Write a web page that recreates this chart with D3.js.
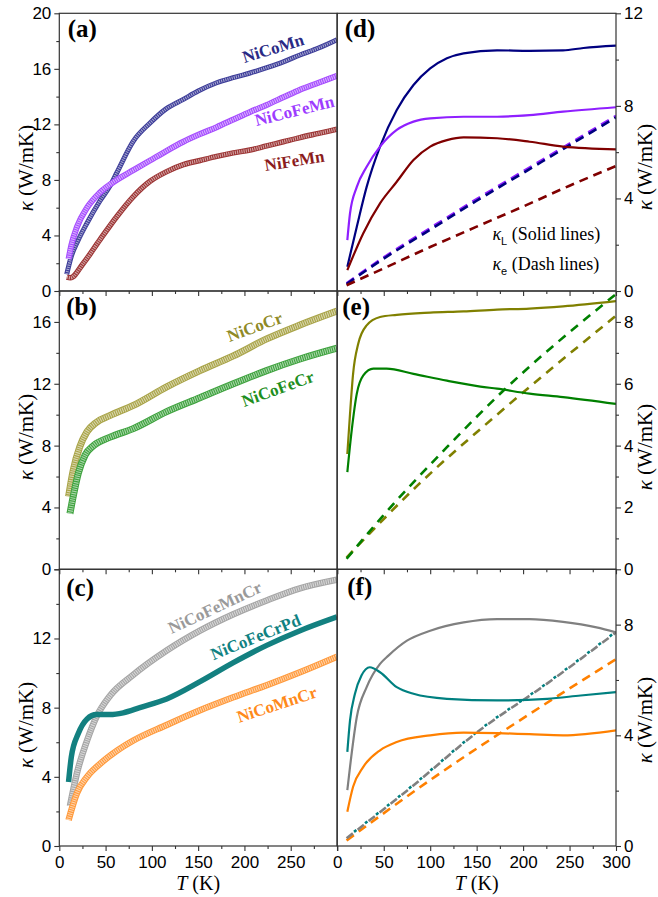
<!DOCTYPE html>
<html>
<head>
<meta charset="utf-8">
<script src="https://cdn.jsdelivr.net/npm/d3@7"></script>
<style>
  body { margin: 0; background: #fff; }
  svg { display: block; }
  .tick text { font-family: "Liberation Sans", Arial, sans-serif; font-size: 17px; fill: #000; }
  .domain { display: none; }
  .tick line { stroke: #333; stroke-width: 1.1; }
  .serif { font-family: "Liberation Serif", "Times New Roman", serif; }
</style>
</head>
<body>
<svg id="chart" width="658" height="897"></svg>
<script>
// ---- (a) total kappa, Mn alloys ----
const aNiCoMnT = [8, 13, 20, 30, 44, 55, 62, 80, 98, 115, 134, 150, 170, 190, 206, 225, 242, 260, 280, 300];
const aNiCoMnK = [1.2, 2.5, 3.6, 4.9, 6.5, 7.6, 8.5, 10.8, 12.1, 13.1, 13.8, 14.4, 15.0, 15.4, 15.7, 16.1, 16.5, 17.0, 17.5, 18.1];
const aNiCoFeMnT = [10, 13, 19, 30, 44, 62, 80, 98, 116, 134, 152, 170, 188, 206, 224, 242, 260, 280, 300];
const aNiCoFeMnK = [2.3, 3.3, 4.6, 6.0, 7.1, 8.0, 8.7, 9.4, 10.1, 10.75, 11.3, 11.8, 12.35, 12.9, 13.4, 13.95, 14.5, 15.0, 15.5];
const aNiFeMnT = [8, 12, 26, 44, 62, 80, 98, 116, 134, 152, 170, 188, 206, 224, 242, 260, 280, 300];
const aNiFeMnK = [1.0, 0.95, 2.0, 3.7, 5.35, 6.8, 7.9, 8.6, 9.1, 9.4, 9.7, 9.95, 10.15, 10.45, 10.75, 11.05, 11.35, 11.65];

// ---- (b) total kappa, Cr alloys ----
const bNiCoCrT = [10, 15, 22, 30, 40, 55, 80, 116, 152, 188, 224, 260, 300];
const bNiCoCrK = [4.7, 6.4, 7.9, 8.9, 9.5, 9.95, 10.6, 11.8, 12.85, 13.8, 14.9, 15.8, 16.7];
const bNiCoFeCrT = [11.5, 15, 20.5, 28, 37, 55, 80, 116, 152, 188, 224, 260, 300];
const bNiCoFeCrK = [3.6, 4.7, 6.2, 7.4, 8.0, 8.55, 9.1, 10.2, 11.1, 12.0, 12.85, 13.6, 14.3];

// ---- (c) total kappa, 4-5 component ----
const cNiCoFeMnCrT = [11.5, 19, 30, 40, 55, 80, 116, 152, 188, 224, 260, 300];
const cNiCoFeMnCrK = [2.3, 4.2, 6.1, 7.45, 8.7, 9.9, 11.3, 12.45, 13.4, 14.2, 14.9, 15.4];
const cNiCoFeCrPdT = [10, 13, 20.5, 30, 40, 55, 69, 87, 116, 152, 188, 224, 260, 300];
const cNiCoFeCrPdK = [3.7, 5.15, 6.5, 7.35, 7.6, 7.6, 7.7, 8.0, 8.5, 9.5, 10.6, 11.6, 12.45, 13.25];
const cNiCoMnCrT = [10, 19, 30, 44, 62, 80, 116, 152, 188, 224, 260, 300];
const cNiCoMnCrK = [1.5, 3.05, 4.0, 4.75, 5.5, 6.1, 7.0, 7.85, 8.6, 9.3, 10.05, 10.95];

// ---- (d) lattice (solid) and electronic (dash) ----
const dNiCoMnT = [10.8, 21, 31.6, 46, 64, 82, 100, 118, 136, 172, 207, 243, 265, 300];
const dNiCoMnL = [1.05, 2.78, 4.5, 6.24, 7.82, 8.9, 9.62, 10.06, 10.27, 10.4, 10.38, 10.4, 10.5, 10.6];
const dNiCoFeMnT = [10.8, 13.7, 21, 31.6, 46, 64, 82, 100, 136, 172, 207, 243, 300];
const dNiCoFeMnL = [2.2, 3.36, 4.5, 5.37, 6.24, 6.96, 7.32, 7.46, 7.53, 7.53, 7.6, 7.75, 7.94];
const dNiFeMnT = [10.8, 28, 46, 64, 82, 100, 118, 136, 172, 207, 243, 300];
const dNiFeMnL = [0.9, 2.5, 3.79, 4.72, 5.66, 6.24, 6.52, 6.64, 6.6, 6.45, 6.24, 6.12];
const dElecT = [10, 50, 100, 150, 200, 250, 300];
const dNiCoMnE = [0.3, 1.4, 2.65, 3.9, 5.1, 6.3, 7.5];
const dNiCoFeMnE = [0.33, 1.45, 2.72, 3.97, 5.17, 6.37, 7.57];
const dNiFeMnE = [0.25, 0.98, 1.9, 2.78, 3.65, 4.55, 5.4];

// ---- (e) ----
const eNiCoCrT = [10.8, 13.7, 17, 22.6, 31.6, 46, 64, 100, 136, 172, 207, 243, 300];
const eNiCoCrL = [3.73, 5.03, 6.32, 7.3, 7.89, 8.16, 8.23, 8.3, 8.34, 8.4, 8.43, 8.5, 8.67];
const eNiCoFeCrT = [10.8, 15.5, 21, 28, 38.8, 53, 82, 118, 154, 172, 207, 243, 300];
const eNiCoFeCrL = [3.14, 4.49, 5.68, 6.27, 6.49, 6.49, 6.32, 6.1, 5.91, 5.84, 5.68, 5.57, 5.35];
const eNiCoCrET = [10, 87, 170, 300];
const eNiCoCrE = [0.38, 2.73, 4.95, 8.2];
const eNiCoFeCrET = [10, 48, 118, 174, 300];
const eNiCoFeCrE = [0.34, 1.69, 3.95, 5.64, 8.9];

// ---- (f) ----
const fNiCoFeMnCrT = [10.8, 13.7, 21, 31.6, 46, 55, 75, 100, 136, 172, 207, 243, 279, 300];
const fNiCoFeMnCrL = [2.02, 2.86, 4.66, 5.74, 6.58, 6.88, 7.42, 7.78, 8.08, 8.2, 8.2, 8.1, 7.9, 7.72];
const fNiCoFeCrPdT = [10.8, 13.7, 19, 26, 35, 46, 64, 82, 118, 172, 226, 262, 300];
const fNiCoFeCrPdL = [3.4, 4.54, 5.5, 6.16, 6.46, 6.28, 5.74, 5.5, 5.32, 5.26, 5.32, 5.44, 5.56];
const fNiCoMnCrT = [10.8, 17, 28, 46, 64, 100, 136, 172, 207, 243, 300];
const fNiCoMnCrL = [1.24, 2.14, 2.86, 3.46, 3.76, 4.0, 4.1, 4.08, 4.04, 4.0, 4.18];
const fElecT = [10, 75, 154, 225, 300];
const fNiCoFeMnCrE = [0.28, 2.0, 4.2, 5.85, 7.72];
const fNiCoFeCrPdE = [0.3, 2.02, 4.22, 5.87, 7.75];
const fNiCoMnCrET = [10, 105, 190, 300];
const fNiCoMnCrE = [0.2, 2.5, 4.4, 6.75];

// tick values
const xMajor = [0, 50, 100, 150, 200, 250, 300];
const xMinor = [25, 75, 125, 175, 225, 275];
const xLabelsLeft = ["0", "50", "100", "150", "200", "250", ""];
const xLabelsRight = ["0", "50", "100", "150", "200", "250", "300"];

const svg = d3.select("#chart");

const LEFT = [59.3, 337], RIGHT = [337.3, 616];
const ROWS = [[13.3, 291], [291, 569.3], [569.3, 846]];

const panels = {
  a: { xr: LEFT,  row: ROWS[0], ymax: 20, major: [0, 4, 8, 12, 16, 20], minor: [2, 6, 10, 14, 18], shown: [0, 4, 8, 12, 16, 20], side: "left",  tag: "(a)", tagAt: [8.5, 24], xLabels: false, yTitleY: 168 },
  b: { xr: LEFT,  row: ROWS[1], ymax: 18, major: [0, 4, 8, 12, 16], minor: [2, 6, 10, 14], shown: [0, 4, 8, 12, 16], side: "left", tag: "(b)", tagAt: [7, 24], xLabels: false, yTitleY: 437 },
  c: { xr: LEFT,  row: ROWS[2], ymax: 16, major: [0, 4, 8, 12, 16], minor: [2, 6, 10, 14], shown: [0, 4, 8, 12], side: "left", tag: "(c)", tagAt: [7, 27], xLabels: xLabelsLeft, yTitleY: 725 },
  d: { xr: RIGHT, row: ROWS[0], ymax: 12, major: [0, 4, 8, 12], minor: [2, 6, 10], shown: [0, 4, 8, 12], side: "right", tag: "(d)", tagAt: [7.5, 24], xLabels: false, yTitleY: 167 },
  e: { xr: RIGHT, row: ROWS[1], ymax: 9, major: [0, 2, 4, 6, 8], minor: [1, 3, 5, 7], shown: [0, 2, 4, 6, 8], side: "right", tag: "(e)", tagAt: [5, 24], xLabels: false, yTitleY: 447 },
  f: { xr: RIGHT, row: ROWS[2], ymax: 10, major: [0, 4, 8], minor: [2, 6], shown: [0, 4, 8], side: "right", tag: "(f)", tagAt: [10, 26], xLabels: xLabelsRight, yTitleY: 720 }
};

// build scales for every panel
Object.entries(panels).forEach(([id, p]) => {
  p.x = d3.scaleLinear().domain([0, 300]).range(p.xr);
  p.y = d3.scaleLinear().domain([0, p.ymax]).range([p.row[1], p.row[0]]);
  svg.append("clipPath").attr("id", "clip-" + id)
    .append("rect")
    .attr("x", p.xr[0]).attr("y", p.row[0])
    .attr("width", p.xr[1] - p.xr[0]).attr("height", p.row[1] - p.row[0]);
  p.g = svg.append("g").attr("clip-path", `url(#clip-${id})`);
});

const zip = (t, k) => t.map((v, i) => [v, k[i]]);

// symbol bands (left column)
const bands = [
  { panel: "a", t: aNiCoMnT, k: aNiCoMnK, color: "#3d3d99", w: 5 },
  { panel: "a", t: aNiCoFeMnT, k: aNiCoFeMnK, color: "#a64dff", w: 6 },
  { panel: "a", t: aNiFeMnT, k: aNiFeMnK, color: "#9c3535", w: 5.5 },
  { panel: "b", t: bNiCoCrT, k: bNiCoCrK, color: "#a9a448", w: 7 },
  { panel: "b", t: bNiCoFeCrT, k: bNiCoFeCrK, color: "#3fa33f", w: 7 },
  { panel: "c", t: cNiCoFeMnCrT, k: cNiCoFeMnCrK, color: "#a6a6a6", w: 6.5 },
  { panel: "c", t: cNiCoMnCrT, k: cNiCoMnCrK, color: "#ff9a3c", w: 6.5 },
  { panel: "c", t: cNiCoFeCrPdT, k: cNiCoFeCrPdK, color: "#138080", w: 5.5, solid: true }
];

bands.forEach(b => {
  const p = panels[b.panel];
  const line = d3.line().x(d => p.x(d[0])).y(d => p.y(d[1])).curve(d3.curveMonotoneX);
  const pts = zip(b.t, b.k);
  p.g.append("path").datum(pts).attr("d", line)
    .attr("fill", "none").attr("stroke", b.color).attr("stroke-width", b.w);
  if (!b.solid) {
    // white hatch across the band, like overlapping open symbols
    p.g.append("path").datum(pts).attr("d", line)
      .attr("fill", "none").attr("stroke", "#fff").attr("stroke-opacity", 0.55)
      .attr("stroke-width", b.w - 2).attr("stroke-dasharray", "1.1,1.1");
  }
});

// lines (right column)
const lines = [
  { panel: "d", t: dElecT, k: dNiCoFeMnE, color: "#8f1fff", dash: "9,6" },
  { panel: "d", t: dElecT, k: dNiCoMnE, color: "#000080", dash: "9,6" },
  { panel: "d", t: dElecT, k: dNiFeMnE, color: "#800000", dash: "9,6" },
  { panel: "d", t: dNiCoMnT, k: dNiCoMnL, color: "#000080" },
  { panel: "d", t: dNiCoFeMnT, k: dNiCoFeMnL, color: "#8f1fff" },
  { panel: "d", t: dNiFeMnT, k: dNiFeMnL, color: "#800000" },
  { panel: "e", t: eNiCoCrET, k: eNiCoCrE, color: "#808000", dash: "9,7" },
  { panel: "e", t: eNiCoFeCrET, k: eNiCoFeCrE, color: "#008000", dash: "9,7" },
  { panel: "e", t: eNiCoCrT, k: eNiCoCrL, color: "#808000" },
  { panel: "e", t: eNiCoFeCrT, k: eNiCoFeCrL, color: "#008000" },
  { panel: "f", t: fNiCoMnCrET, k: fNiCoMnCrE, color: "#ff8000", dash: "9,6" },
  { panel: "f", t: fElecT, k: fNiCoFeMnCrE, color: "#808080", dash: "8,6" },
  { panel: "f", t: fElecT, k: fNiCoFeCrPdE, color: "#008080", dash: "3,11", offset: -9.5 },
  { panel: "f", t: fNiCoFeMnCrT, k: fNiCoFeMnCrL, color: "#808080" },
  { panel: "f", t: fNiCoFeCrPdT, k: fNiCoFeCrPdL, color: "#008080" },
  { panel: "f", t: fNiCoMnCrT, k: fNiCoMnCrL, color: "#ff8000" }
];

lines.forEach(l => {
  const p = panels[l.panel];
  const line = d3.line().x(d => p.x(d[0])).y(d => p.y(d[1])).curve(d3.curveMonotoneX);
  const path = p.g.append("path").datum(zip(l.t, l.k)).attr("d", line)
    .attr("fill", "none").attr("stroke", l.color)
    .attr("stroke-width", l.dash ? 2.6 : 2.2);
  if (l.dash) path.attr("stroke-dasharray", l.dash).attr("stroke-dashoffset", l.offset || 0);
});

// axes and frames
Object.values(panels).forEach(p => {
  const yPos = p.side === "left" ? p.xr[0] : p.xr[1];
  const yAx = p.side === "left" ? d3.axisLeft(p.y) : d3.axisRight(p.y);
  const yAxMinor = p.side === "left" ? d3.axisLeft(p.y) : d3.axisRight(p.y);

  svg.append("g").attr("transform", `translate(${yPos},0)`)
    .call(yAx.tickValues(p.major).tickSize(5).tickPadding(3)
      .tickFormat(d => p.shown.includes(d) ? d : ""));
  svg.append("g").attr("transform", `translate(${yPos},0)`)
    .call(yAxMinor.tickValues(p.minor).tickSize(3).tickFormat(""));

  const xAx = d3.axisBottom(p.x).tickValues(xMajor).tickSize(5).tickPadding(5)
    .tickFormat((d, i) => p.xLabels ? p.xLabels[i] : "");
  svg.append("g").attr("transform", `translate(0,${p.row[1]})`).call(xAx);
  svg.append("g").attr("transform", `translate(0,${p.row[1]})`)
    .call(d3.axisBottom(p.x).tickValues(xMinor).tickSize(3).tickFormat(""));

  svg.append("rect")
    .attr("x", p.xr[0]).attr("y", p.row[0])
    .attr("width", p.xr[1] - p.xr[0]).attr("height", p.row[1] - p.row[0])
    .attr("fill", "none").attr("stroke", "#333").attr("stroke-width", 1.2);

  // panel tag
  svg.append("text").attr("class", "serif")
    .attr("x", p.xr[0] + p.tagAt[0]).attr("y", p.row[0] + p.tagAt[1])
    .attr("font-size", 25).attr("font-weight", "bold").text(p.tag);

  // y title
  const tx = p.side === "left" ? 33 : 652;
  const yt = svg.append("text").attr("class", "serif")
    .attr("transform", `translate(${tx},${p.yTitleY}) rotate(-90)`)
    .attr("text-anchor", "middle").attr("font-size", 21);
  yt.append("tspan").attr("font-style", "italic").text("κ");
  yt.append("tspan").text(" (W/mK)");
});

// x titles
[LEFT, RIGHT].forEach(r => {
  const t = svg.append("text").attr("class", "serif")
    .attr("x", (r[0] + r[1]) / 2).attr("y", 890)
    .attr("text-anchor", "middle").attr("font-size", 20);
  t.append("tspan").attr("font-style", "italic").text("T");
  t.append("tspan").text(" (K)");
});

// series labels on the left column
const seriesLabels = [
  { panel: "a", text: "NiCoMn", t: 231, k: 17.5, rot: -17, color: "#2a2a85" },
  { panel: "a", text: "NiCoFeMn", t: 254, k: 13.0, rot: -14, color: "#9d3cff" },
  { panel: "a", text: "NiFeMn", t: 254, k: 9.4, rot: -9, color: "#8b1c1c" },
  { panel: "b", text: "NiCoCr", t: 211, k: 15.7, rot: -20, color: "#8f8a26" },
  { panel: "b", text: "NiCoFeCr", t: 236, k: 11.7, rot: -20, color: "#1f8f1f" },
  { panel: "c", text: "NiCoFeMnCr", t: 168, k: 13.8, rot: -25, color: "#9a9a9a" },
  { panel: "c", text: "NiCoFeCrPd", t: 212, k: 12.1, rot: -22, color: "#108282" },
  { panel: "c", text: "NiCoMnCr", t: 235, k: 8.2, rot: -18, color: "#ff8a1a" }
];

seriesLabels.forEach(s => {
  const p = panels[s.panel];
  svg.append("text").attr("class", "serif")
    .attr("transform", `translate(${p.x(s.t)},${p.y(s.k)}) rotate(${s.rot})`)
    .attr("text-anchor", "middle").attr("dy", "0.35em")
    .attr("font-size", 17).attr("font-weight", "bold")
    .attr("fill", s.color).text(s.text);
});

// legend note in (d)
const pd = panels.d;
[["L", " (Solid lines)", 2.2], ["e", " (Dash lines)", 0.9]].forEach(([sub, rest, k]) => {
  const t = svg.append("text").attr("class", "serif")
    .attr("x", pd.x(167)).attr("y", pd.y(k)).attr("font-size", 18);
  t.append("tspan").attr("font-style", "italic").text("κ");
  t.append("tspan").attr("dy", 5).attr("font-size", 11)
    .attr("font-family", "Liberation Sans, Arial, sans-serif").text(sub);
  t.append("tspan").attr("dy", -5).text(rest);
});
</script>
</body>
</html>
